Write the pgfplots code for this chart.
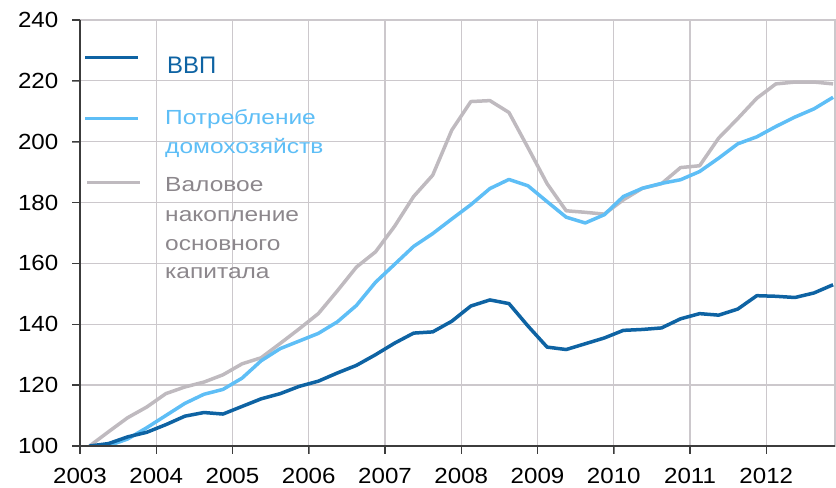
\documentclass[border=0pt]{standalone}
\usepackage{fontspec}
\setmainfont{Liberation Sans}
\usepackage{pgfplots}
\pgfplotsset{compat=1.18}

\definecolor{gdp}{RGB}{14,99,163}
\definecolor{cons}{RGB}{94,190,246}
\definecolor{inv}{RGB}{191,186,191}
\definecolor{invtxt}{RGB}{140,135,140}
\definecolor{gridc}{RGB}{204,200,204}
\definecolor{axisdark}{RGB}{60,60,60}

% quarterly indices, 2003Q1 = 100
\pgfplotstableread{
x        gdp   cons  inv
2003.125 100.0 100.0 100.0
2003.375 100.8 100.1 104.7
2003.625 103.0 102.3 109.3
2003.875 104.5 106.0 112.8
2004.125 107.0 110.0 117.2
2004.375 109.8 114.0 119.4
2004.625 111.0 117.0 121.0
2004.875 110.5 118.6 123.4
2005.125 113.0 122.3 127.0
2005.375 115.5 128.0 129.0
2005.625 117.2 132.0 133.7
2005.875 119.6 134.5 138.5
2006.125 121.3 137.0 143.5
2006.375 124.0 140.8 151.0
2006.625 126.5 146.2 158.8
2006.875 130.0 153.8 163.8
2007.125 133.8 159.7 172.2
2007.375 137.1 165.6 182.0
2007.625 137.5 169.8 189.0
2007.875 141.0 174.6 203.8
2008.125 146.0 179.3 213.2
2008.375 148.0 184.6 213.5
2008.625 146.8 187.6 209.6
2008.875 139.4 185.5 198.0
2009.125 132.5 180.3 186.2
2009.375 131.7 175.2 177.3
2009.625 133.6 173.3 176.8
2009.875 135.5 176.0 176.2
2010.125 138.0 182.0 180.9
2010.375 138.3 184.7 184.7
2010.625 138.8 186.3 186.2
2010.875 141.8 187.5 191.5
2011.125 143.5 190.2 192.1
2011.375 143.0 194.6 201.2
2011.625 145.0 199.3 207.6
2011.875 149.4 201.6 214.3
2012.125 149.2 205.0 219.0
2012.375 148.8 208.1 219.6
2012.625 150.3 210.8 219.6
2012.875 153.0 214.6 219.0
}\data

\begin{document}
\begin{tikzpicture}
\begin{axis}[
  name=ax,
  scale only axis, width=755bp, height=426bp,
  xmin=2003, xmax=2012.9, ymin=100, ymax=240,
  xtick={2003,...,2012}, ytick={100,120,...,240},
  xticklabel style={/pgf/number format/1000 sep={}, yshift=-11bp},
  yticklabel style={xshift=-9bp},
  /pgf/number format/assume math mode=true,
  tick label style={font=\fontsize{22}{26}\selectfont, color=black, xscale=1.1},
  axis line style={gridc, line width=1.3bp},
  grid=major, grid style={gridc, line width=1.3bp},
  tick align=outside, major tick length=8bp,
  xtick pos=bottom, ytick pos=left,
  every axis plot/.append style={line width=3.5bp, line join=round},
]
  \addplot[inv] table[x=x, y=inv] {\data};
  \addplot[cons] table[x=x, y=cons] {\data};
  \addplot[gdp] table[x=x, y=gdp] {\data};
\end{axis}
\begin{scope}[shift={(ax.south west)}, x=1bp, y=1bp]
  \path (-80,-40) rectangle (756,446);
  % dark left and bottom axis lines with outward ticks
  \draw[axisdark, line width=1.4bp] (0,426) -- (0,0) -- (755,0);
  \foreach \k in {0,...,9} \draw[axisdark, line width=1.3bp] ({\k*755/9.9},0) -- ++(0,-8);
  \foreach \k in {0,...,7} \draw[axisdark, line width=1.3bp] (0,{\k*426/7}) -- ++(-8,0);
  % legend
  \draw[gdp, line width=3.5bp] (5,388.7) -- (58,388.7);
  \draw[cons, line width=3.5bp] (5,327.3) -- (58,327.3);
  \draw[inv, line width=3.5bp] (7,263.3) -- (60,263.3);
  \node[anchor=base west, inner sep=0, text=gdp, font=\fontsize{24}{28}\selectfont] at (87,372) {ВВП};
  \begin{scope}[every node/.style={anchor=base west, inner sep=0, xscale=1.2, font=\fontsize{20.5}{28}\selectfont}]
  \node[text=cons] at (85,321) {Потребление};
  \node[text=cons] at (85,292) {домохозяйств};
  \node[text=invtxt] at (85,254.3) {Валовое};
  \node[text=invtxt] at (85,224.3) {накопление};
  \node[text=invtxt] at (85,195.5) {основного};
  \node[text=invtxt] at (85,167.7) {капитала};
  \end{scope}
\end{scope}
\end{tikzpicture}
\end{document}
